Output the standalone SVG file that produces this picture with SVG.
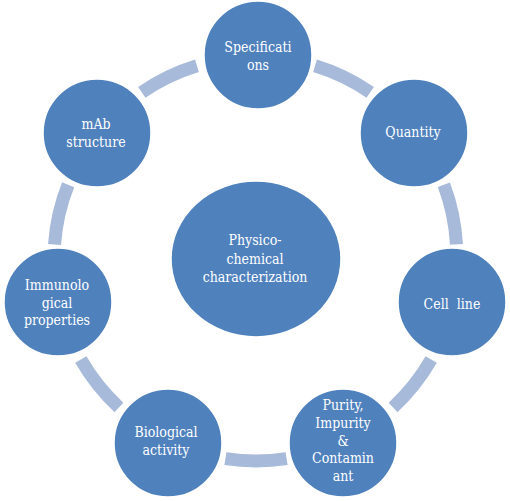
<svg xmlns="http://www.w3.org/2000/svg" width="510" height="501" viewBox="0 0 510 501">
<style>
.ring{fill:none;stroke:#a7bad9;stroke-width:13;stroke-linecap:butt}
.node{fill:#4f81bd;stroke:#ffffff;stroke-width:1.5}
text{font-family:'DejaVu Serif Condensed','DejaVu Serif',serif;font-stretch:condensed;font-size:14px;fill:#ffffff;text-anchor:middle}
</style>
<rect width="510" height="501" fill="#ffffff"/>
<g id="connectors">
<path class="ring" d="M315.06,65.83 A202,202 0 0 1 370.20,92.38"/>
<path class="ring" d="M443.85,184.74 A202,202 0 0 1 456.47,244.41"/>
<path class="ring" d="M431.19,359.56 A202,202 0 0 1 393.05,407.40"/>
<path class="ring" d="M286.60,458.67 A202,202 0 0 1 225.40,458.67"/>
<path class="ring" d="M118.95,407.40 A202,202 0 0 1 80.81,359.56"/>
<path class="ring" d="M54.53,244.41 A202,202 0 0 1 68.15,184.74"/>
<path class="ring" d="M141.80,92.38 A202,202 0 0 1 196.94,65.83"/>
</g>
<g id="center">
<ellipse class="node" cx="256" cy="259" rx="85" ry="78"/>
<text x="255" y="245">Physico-</text>
<text x="255" y="264">chemical</text>
<text x="255" y="282">characterization</text>
</g>
<g id="specifications">
<circle class="node" cx="258" cy="55" r="54"/>
<text x="258" y="52">Specificati</text>
<text x="258" y="70">ons</text>
</g>
<g id="quantity">
<circle class="node" cx="414" cy="133" r="54"/>
<text x="413" y="137">Quantity</text>
</g>
<g id="cell-line">
<circle class="node" cx="452" cy="302" r="54"/>
<text x="452" y="309" xml:space="preserve">Cell  line</text>
</g>
<g id="purity">
<circle class="node" cx="343" cy="443" r="54"/>
<text x="343" y="410">Purity,</text>
<text x="343" y="428">Impurity</text>
<text x="343" y="446">&amp;</text>
<text x="343" y="463">Contamin</text>
<text x="343" y="481">ant</text>
</g>
<g id="biological">
<circle class="node" cx="168" cy="443" r="54"/>
<text x="166" y="437">Biological</text>
<text x="166" y="455">activity</text>
</g>
<g id="immunological">
<circle class="node" cx="58" cy="302" r="54"/>
<text x="57" y="290">Immunolo</text>
<text x="57" y="308">gical</text>
<text x="57" y="325">properties</text>
</g>
<g id="mab">
<circle class="node" cx="97" cy="133" r="54"/>
<text x="96" y="129">mAb</text>
<text x="96" y="147">structure</text>
</g>
</svg>
